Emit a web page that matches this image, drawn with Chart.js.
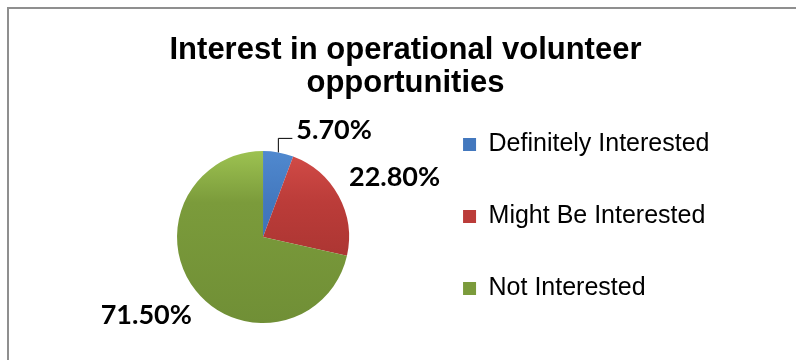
<!DOCTYPE html>
<html>
<head>
<meta charset="utf-8">
<script src="https://cdn.jsdelivr.net/npm/chart.js@4.4.0/dist/chart.umd.min.js"></script>
<style>
  html, body { margin: 0; padding: 0; background: #fff; overflow: hidden; }
  #frame { position: absolute; left: 7px; top: 7px; width: 900px; height: 500px;
           border-left: 2px solid #8f8f8f; border-top: 2px solid #8f8f8f; }
  #wrap { position: absolute; left: 0; top: 0; width: 796px; height: 360px; }
</style>
</head>
<body>
<div id="frame"></div>
<div id="wrap"><canvas id="chart"></canvas></div>
<script>
// chart data
const titleLines = ['Interest in operational volunteer', 'opportunities'];
const categories = ['Definitely Interested', 'Might Be Interested', 'Not Interested'];
const shares = [5.7, 22.8, 71.5];

// office style shading, top and bottom of each slice
const sliceColors = ['#4378be', '#bb3c39', '#7b9b3b'];
const sliceTops = ['#5089cf', '#d34c48', '#9dc251'];
const sliceBottoms = ['#3465a7', '#9a2e2b', '#708f36'];

const PIE_RADIUS = 86;

function sliceFill(context) {
  const i = context.dataIndex;
  const area = context.chart.chartArea;
  if (!area) return sliceColors[i];
  const cy = (area.top + area.bottom) / 2;
  const g = context.chart.ctx.createLinearGradient(0, cy - PIE_RADIUS, 0, cy + PIE_RADIUS);
  g.addColorStop(0, sliceTops[i]);
  g.addColorStop(0.3, sliceColors[i]);
  g.addColorStop(1, sliceBottoms[i]);
  return g;
}

// keep the pie in the middle of the space left of the legend
const pieGutter = {
  id: 'pieGutter',
  afterLayout(chart) {
    const shift = 18.5;
    chart.chartArea.left += shift;
    chart.chartArea.width -= shift;
  }
};

// percentage labels outside the pie, small slice gets a leader line
const pctLabels = {
  id: 'pctLabels',
  afterDatasetsDraw(chart) {
    const ctx = chart.ctx;
    const meta = chart.getDatasetMeta(0);
    ctx.save();
    ctx.font = 'bold 27px Lato';
    ctx.fillStyle = '#000';
    ctx.strokeStyle = '#000';
    ctx.lineWidth = 1;
    meta.data.forEach((arc, i) => {
      const p = arc.getProps(['x', 'y', 'startAngle', 'endAngle', 'outerRadius'], true);
      const mid = (p.startAngle + p.endAngle) / 2;
      const cos = Math.cos(mid), sin = Math.sin(mid);
      const text = shares[i].toFixed(2) + '%';
      const w = ctx.measureText(text).width;
      if (shares[i] < 10) {
        const ex = p.x + cos * p.outerRadius;
        const ey = p.y + sin * p.outerRadius;
        ctx.beginPath();
        ctx.moveTo(ex, ey);
        ctx.lineTo(ex, ey - 14);
        ctx.lineTo(ex + 14, ey - 14);
        ctx.stroke();
        ctx.textAlign = 'left';
        ctx.textBaseline = 'middle';
        ctx.fillText(text, ex + 18, ey - 22);
      } else {
        const r = p.outerRadius + 18;
        ctx.textAlign = 'center';
        ctx.textBaseline = 'middle';
        ctx.fillText(text, p.x + cos * (r + w / 2), p.y + sin * (r + 21));
      }
    });
    ctx.restore();
  }
};

const ctx = document.getElementById('chart').getContext('2d');
const chart = new Chart(ctx, {
  type: 'pie',
  data: {
    labels: categories,
    datasets: [{
      data: shares,
      backgroundColor: sliceFill,
      borderWidth: 0,
      radius: PIE_RADIUS,
      hoverOffset: 0
    }]
  },
  options: {
    responsive: true,
    maintainAspectRatio: false,
    animation: false,
    layout: { padding: { left: 91.5, right: 76.5, top: 0, bottom: 12 } },
    plugins: {
      title: {
        display: true,
        text: titleLines,
        color: '#000',
        font: { family: 'Liberation Sans', size: 31, weight: 'bold', lineHeight: 1.065 },
        padding: { top: 34, bottom: 26 }
      },
      legend: {
        position: 'right',
        align: 'end',
        labels: {
          boxWidth: 13,
          boxHeight: 13,
          padding: 47,
          color: '#000',
          font: { family: 'Liberation Sans', size: 25 },
          generateLabels(chart) {
            const items = Chart.overrides.pie.plugins.legend.labels.generateLabels(chart);
            items.forEach((item, i) => { item.fillStyle = sliceColors[i]; });
            return items;
          }
        }
      },
      tooltip: { enabled: false }
    }
  },
  plugins: [pieGutter, pctLabels]
});
</script>
</body>
</html>
